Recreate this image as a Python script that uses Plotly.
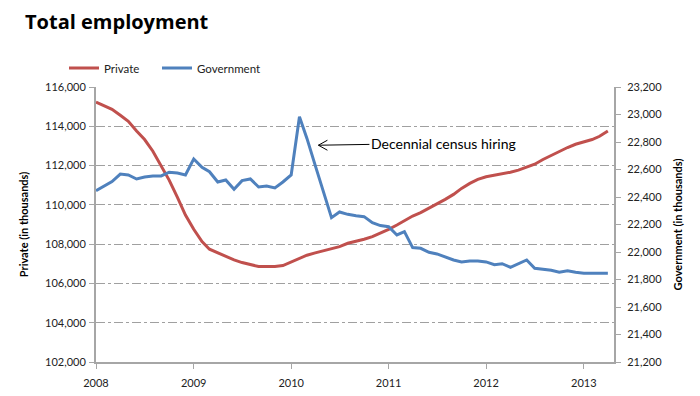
import pandas as pd
import plotly.graph_objects as go

# ---- data ----
months = pd.date_range("2008-01-01", periods=64, freq="MS").strftime("%Y-%m-%d").tolist()

private = [115233, 115050, 114863, 114558, 114254, 113762, 113324, 112731, 111986, 111259,
           110380, 109483, 108756, 108127, 107741, 107554, 107401, 107198, 107063, 106944,
           106860, 106860, 106860, 106910, 107080, 107283, 107436, 107554, 107655, 107757,
           107875, 108045, 108130, 108250, 108383, 108553, 108756, 108975, 109178, 109432,
           109601, 109822, 110025, 110279, 110533, 110838, 111092, 111295, 111430, 111500,
           111580, 111660, 111767, 111902, 112071, 112310, 112528, 112731, 112919, 113086,
           113203, 113325, 113492, 113763]

government = [22446, 22480, 22512, 22567, 22560, 22531, 22546, 22553, 22553, 22580,
              22575, 22560, 22677, 22616, 22584, 22509, 22524, 22456, 22519, 22531,
              22473, 22480, 22466, 22509, 22560, 22984, 22826, 22630, 22440, 22250,
              22291, 22274, 22264, 22257, 22213, 22192, 22184, 22124, 22148, 22032,
              22027, 21998, 21986, 21962, 21942, 21928, 21935, 21935, 21928, 21908,
              21915, 21889, 21918, 21942, 21882, 21875, 21867, 21853, 21864, 21853,
              21846, 21846, 21846, 21846]

year_ticks = ["2008-01-01", "2009-01-01", "2010-01-01", "2011-01-01", "2012-01-01", "2013-01-01"]
year_labels = ["2008", "2009", "2010", "2011", "2012", "2013"]

note_text = "Decennial census hiring"
note_x = "2010-04-13"
note_y = 113036

FONT = "Lato"
RED = "#C0504D"
BLUE = "#4F81BD"
AXIS = "#A6A6A6"

fig = go.Figure()
fig.add_trace(go.Scatter(x=months, y=private, name="Private", mode="lines",
                         line=dict(color=RED, width=3), yaxis="y", legend="legend"))
fig.add_trace(go.Scatter(x=months, y=government, name="Government", mode="lines",
                         line=dict(color=BLUE, width=3), yaxis="y2", legend="legend2"))

legend_common = dict(orientation="h", xref="container", yref="container",
                     xanchor="left", yanchor="middle", y=1 - 68 / 396,
                     font=dict(family=FONT, size=11.5, color="#222222"),
                     bgcolor="rgba(0,0,0,0)", itemwidth=30)

fig.update_layout(
    width=700, height=396,
    margin=dict(l=96, r=86, t=87, b=34),
    paper_bgcolor="white", plot_bgcolor="white",
    font=dict(family=FONT, size=11, color="#222222"),
    title=dict(text="<b>Total employment</b>", xref="container", yref="container",
               x=25 / 700, xanchor="left", y=1 - 22 / 396, yanchor="middle",
               font=dict(family="Open Sans", size=20, color="black")),
    showlegend=True,
    legend=dict(x=64 / 700, **legend_common),
    legend2=dict(x=157 / 700, **legend_common),
    xaxis=dict(type="date", range=["2008-01-01", "2013-04-24"], automargin=False,
               tickvals=year_ticks, ticktext=year_labels, ticklabelstandoff=5,
               showgrid=False, showline=True, linecolor=AXIS, linewidth=2,
               ticks="outside", ticklen=5, tickcolor=AXIS, tickwidth=1,
               tickfont=dict(family=FONT, size=11, color="#222222"), zeroline=False),
    yaxis=dict(range=[102000, 116000], dtick=2000, tickformat=",", automargin=False,
               showgrid=True, gridcolor="#A0A0A0", griddash="dashdot", gridwidth=1,
               showline=True, linecolor=AXIS, linewidth=2, ticklabelstandoff=1,
               ticks="outside", ticklen=5, tickcolor=AXIS,
               zeroline=False,
               title=dict(text="<b>Private (in thousands)</b>", standoff=14,
                          font=dict(family=FONT, size=11, color="black"))),
    yaxis2=dict(range=[21200, 23200], dtick=200, tickformat=",", automargin=False,
                overlaying="y", side="right", showgrid=False, ticklabelstandoff=4,
                showline=True, linecolor=AXIS, linewidth=2,
                ticks="outside", ticklen=5, tickcolor=AXIS, zeroline=False,
                title=dict(text="<b>Government (in thousands)</b>", standoff=13,
                           font=dict(family=FONT, size=11, color="black"))),
)

fig.add_annotation(x=note_x, y=note_y, xref="x", yref="y", text=note_text,
                   showarrow=True, arrowhead=0, arrowwidth=1, arrowcolor="black",
                   ax=125, ay=-2, font=dict(family=FONT, size=14, color="black"))
for dy in (5, -5):
    fig.add_shape(type="line", xref="x", yref="y", xsizemode="pixel", ysizemode="pixel",
                  xanchor=note_x, yanchor=note_y, x0=0, x1=9, y0=0, y1=dy,
                  line=dict(color="black", width=1))

fig.write_html("out.html", config=dict(displayModeBar=False),
               post_script="document.body.style.margin='0';document.body.style.padding='0';")
